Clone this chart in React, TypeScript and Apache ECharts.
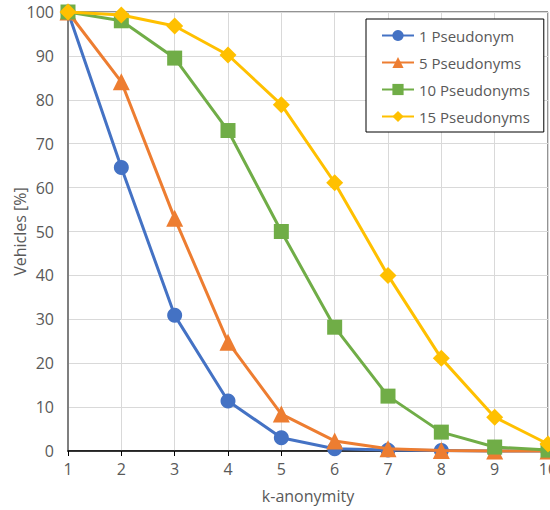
import React, { useEffect, useRef } from "react";
import * as echarts from "echarts";

const kValues = [1, 2, 3, 4, 5, 6, 7, 8, 9, 10];
const seriesNames = ["1 Pseudonym", "5 Pseudonyms", "10 Pseudonyms", "15 Pseudonyms"];
const pseudo1 = [100, 64.6, 30.9, 11.4, 3.0, 0.5, 0.2, 0.1, 0.0, 0.0];
const pseudo5 = [100, 84.1, 53.0, 24.8, 8.4, 2.3, 0.5, 0.1, 0.0, 0.0];
const pseudo10 = [100, 98.0, 89.5, 73.0, 50.0, 28.2, 12.5, 4.3, 0.9, 0.2];
const pseudo15 = [100, 99.3, 96.8, 90.2, 78.9, 61.1, 40.0, 21.1, 7.7, 1.6];

const colors = ["#4472C4", "#ED7D31", "#70AD47", "#FFC000"];
const symbols = ["circle", "triangle", "rect", "diamond"];
const symbolSizes = [15, 17, 15, 17];
const allData = [pseudo1, pseudo5, pseudo10, pseudo15];

const FONT = "Open Sans";
const TEXT = "#595959";

export default function App() {
  const ref = useRef<HTMLDivElement>(null);
  useEffect(() => {
    if (!ref.current) return;
    const chart = echarts.init(ref.current, null, { renderer: "svg" });
    chart.setOption({
      animation: false,
      backgroundColor: "#ffffff",
      textStyle: { fontFamily: FONT },
      grid: {
        left: 68,
        right: 2,
        top: 12,
        bottom: 59,
        outerBoundsMode: "none",
        containLabel: false,
        show: true,
        borderColor: "#262626",
        borderWidth: 1,
      },
      legend: {
        orient: "vertical",
        left: 366,
        top: 19,
        padding: [9, 14, 8, 15],
        itemGap: 12,
        itemWidth: 32,
        itemHeight: 14,
        borderColor: "#000000",
        borderWidth: 1,
        backgroundColor: "#ffffff",
        textStyle: { color: TEXT, fontSize: 15, fontFamily: FONT },
        data: seriesNames,
      },
      xAxis: {
        type: "value",
        min: 1,
        max: 10,
        interval: 1,
        name: "k-anonymity",
        nameLocation: "middle",
        nameGap: 37,
        nameMoveOverlap: false,
        nameTextStyle: { color: TEXT, fontSize: 16, fontFamily: FONT },
        axisLine: { show: true, lineStyle: { color: "#000000", width: 1.5 } },
        axisTick: { show: true, length: 5, lineStyle: { color: "#000000" } },
        axisLabel: { color: TEXT, fontSize: 16, fontFamily: FONT, margin: 10 },
        splitLine: { show: true, lineStyle: { color: "#d9d9d9", width: 1 } },
      },
      yAxis: {
        type: "value",
        min: 0,
        max: 100,
        interval: 10,
        name: "Vehicles [%]",
        nameLocation: "middle",
        nameGap: 40,
        nameMoveOverlap: false,
        nameTextStyle: { color: TEXT, fontSize: 16, fontFamily: FONT },
        axisLine: { show: true, lineStyle: { color: "#7f7f7f", width: 2 } },
        axisTick: { show: false },
        axisLabel: { color: TEXT, fontSize: 16, fontFamily: FONT, margin: 14 },
        splitLine: { show: true, lineStyle: { color: "#d9d9d9", width: 1 } },
      },
      series: seriesNames.map((name, i) => ({
        name,
        type: "line",
        data: kValues.map((k, j) => [k, allData[i][j]]),
        symbol: symbols[i],
        symbolSize: symbolSizes[i],
        showAllSymbol: true,
        clip: false,
        lineStyle: { color: colors[i], width: 3 },
        itemStyle: { color: colors[i], borderWidth: 0 },
        z: 2 + i,
      })),
    });
    return () => chart.dispose();
  }, []);
  return <div ref={ref} style={{ width: 550, height: 510, position: "absolute", left: 0, top: 0 }} />;
}
